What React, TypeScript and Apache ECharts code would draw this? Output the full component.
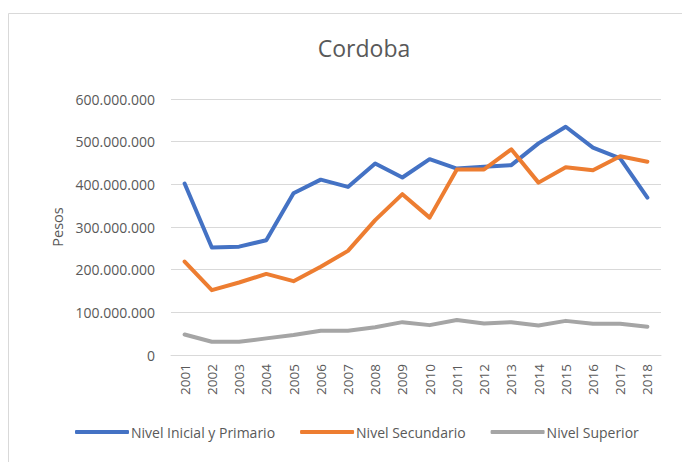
import React, { useEffect, useRef } from "react";
import * as echarts from "echarts";

const years = ["2001","2002","2003","2004","2005","2006","2007","2008","2009","2010","2011","2012","2013","2014","2015","2016","2017","2018"];
const inicialPrimario = [402, 252, 254, 269, 379, 411, 394, 449, 416, 459, 437, 441, 445, 496, 535, 486, 461, 369].map(v => v * 1e6);
const secundario = [219, 152, 170, 190, 173, 207, 244, 316, 377, 322, 435, 435, 482, 404, 440, 433, 466, 453].map(v => v * 1e6);
const superior = [48, 31, 31, 39, 47, 57, 57, 65, 77, 70, 82, 74, 77, 69, 80, 73, 73, 66].map(v => v * 1e6);
const seriesNames = ["Nivel Inicial y Primario", "Nivel Secundario", "Nivel Superior"];
const colors = ["#4472C4", "#ED7D31", "#A5A5A5"];

const fmt = (v: number) => String(Math.round(v)).replace(/\B(?=(\d{3})+(?!\d))/g, ".");

export default function App() {
  const ref = useRef<HTMLDivElement>(null);
  useEffect(() => {
    if (!ref.current) return;
    const chart = echarts.init(ref.current, undefined, { renderer: "svg" });
    const font = "'Open Sans', 'Noto Sans', sans-serif";
    const data = [inicialPrimario, secundario, superior];
    chart.setOption({
      animation: false,
      backgroundColor: "#ffffff",
      textStyle: { fontFamily: font },
      graphic: [
        {
          type: "rect",
          shape: { x: 8.5, y: 13.5, width: 700, height: 500 },
          style: { fill: "none", stroke: "#d9d9d9", lineWidth: 1 },
          silent: true,
        },
      ],
      title: {
        text: "Cordoba",
        left: 359,
        textAlign: "center",
        top: 31,
        textStyle: { fontSize: 23, fontWeight: "normal", color: "#595959", fontFamily: font },
      },
      legend: {
        bottom: 18,
        left: 70,
        itemWidth: 54,
        itemHeight: 4,
        itemGap: 25,
        icon: "roundRect",
        textStyle: { fontSize: 14, color: "#595959", fontFamily: font, padding: [0, 0, 0, -3] },
        data: seriesNames,
      },
      grid: { left: 171, right: 21, top: 99, bottom: 107, containLabel: false },
      xAxis: {
        type: "category",
        data: years,
        boundaryGap: true,
        axisLine: { lineStyle: { color: "#d9d9d9", width: 1 } },
        axisTick: { show: false },
        axisLabel: { rotate: 90, color: "#595959", fontSize: 13.5, margin: 9, fontFamily: font },
      },
      yAxis: {
        type: "value",
        min: 0,
        max: 600000000,
        interval: 100000000,
        name: "Pesos",
        nameLocation: "middle",
        nameGap: 104,
        nameTextStyle: { fontSize: 14.5, color: "#595959", fontFamily: font },
        axisLine: { show: false },
        axisTick: { show: false },
        splitLine: { lineStyle: { color: "#d9d9d9", width: 1 } },
        axisLabel: { color: "#595959", fontSize: 14, margin: 16, formatter: (v: number) => fmt(v), fontFamily: font },
      },
      series: data.map((d, i) => ({
        name: seriesNames[i],
        type: "line",
        data: d,
        symbol: "none",
        lineStyle: { color: colors[i], width: 4, cap: "round", join: "round" },
        itemStyle: { color: colors[i] },
      })),
    });
    return () => chart.dispose();
  }, []);
  return <div ref={ref} style={{ position: "fixed", left: 0, top: 0, width: 682, height: 462 }} />;
}
